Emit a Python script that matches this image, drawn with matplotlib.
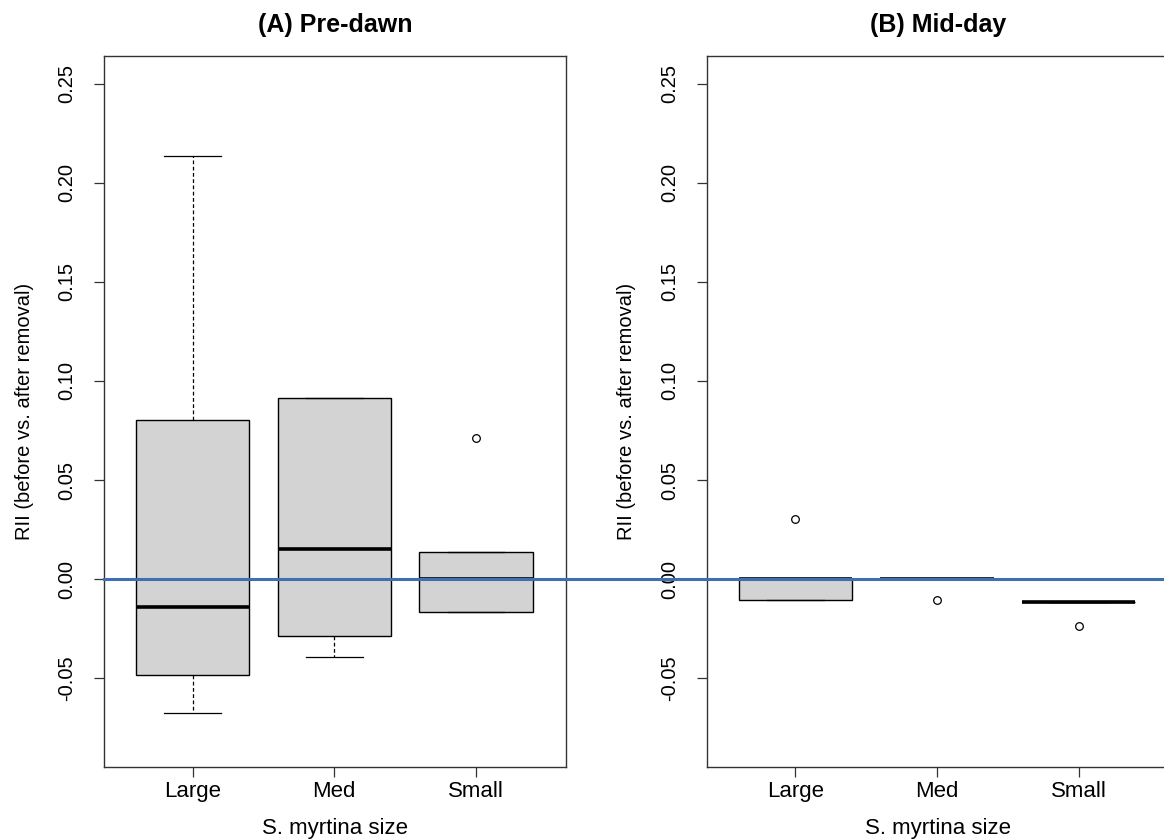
import matplotlib
matplotlib.use("Agg")
import matplotlib.pyplot as plt
from matplotlib.lines import Line2D
from matplotlib.transforms import blended_transform_factory

plt.rcParams['font.family'] = ['Liberation Sans', 'DejaVu Sans']

# size classes of S. myrtina
sizes = ["Large", "Med", "Small"]

# (A) pre-dawn RII summary values
pre_whislo = [-0.0675, -0.0392, -0.0167]
pre_q1 = [-0.0486, -0.0288, -0.0167]
pre_med = [-0.0140, 0.0150, 0.0000]
pre_q3 = [0.0803, 0.0913, 0.0135]
pre_whishi = [0.2138, 0.0913, 0.0135]
pre_fliers = [[], [], [0.0714]]

# (B) mid-day RII summary values
mid_whislo = [-0.0106, 0.0000, -0.0117]
mid_q1 = [-0.0106, 0.0000, -0.0117]
mid_med = [0.0000, 0.0000, -0.0117]
mid_q3 = [0.0000, 0.0000, -0.0117]
mid_whishi = [0.0000, 0.0000, -0.0117]
mid_fliers = [[0.0303], [-0.0106], [-0.0236]]

yticks = [-0.05, 0.00, 0.05, 0.10, 0.15, 0.20, 0.25]
ytick_labels = ["-0.05", "0.00", "0.05", "0.10", "0.15", "0.20", "0.25"]


def make_stats(whislo, q1, med, q3, whishi, fliers):
    """ Build the list of dicts that ax.bxp wants. """
    stats = []
    for i, name in enumerate(sizes):
        stats.append(dict(label=name, whislo=whislo[i], q1=q1[i], med=med[i],
                          q3=q3[i], whishi=whishi[i], fliers=fliers[i]))
    return stats


def draw_panel(ax, stats, title):
    ax.bxp(stats, positions=[1, 2, 3], widths=0.8, patch_artist=True,
           showfliers=True,
           boxprops=dict(facecolor='#d3d3d3', edgecolor='black', linewidth=1.0),
           medianprops=dict(color='black', linewidth=2.6, solid_capstyle='butt'),
           whiskerprops=dict(color='black', linewidth=0.9, linestyle=(0, (3, 2))),
           capprops=dict(color='black', linewidth=0.9),
           capwidths=0.4,
           flierprops=dict(marker='o', markerfacecolor='none', markeredgecolor='black',
                           markersize=5.5, markeredgewidth=0.9))

    ax.set_xlim(0.375, 3.635)
    ax.set_ylim(-0.0948, 0.2641)

    ax.set_xticks([1, 2, 3])
    ax.set_xticklabels(sizes, fontsize=16)
    ax.set_yticks(yticks)
    ax.set_yticklabels(ytick_labels, fontsize=14.5, rotation=90, va='center')
    ax.tick_params(axis='both', direction='out', length=7, width=0.9, color='#333333')
    ax.tick_params(axis='x', pad=3)
    ax.tick_params(axis='y', pad=13)

    for sp in ax.spines.values():
        sp.set_linewidth(1.0)
        sp.set_color('#333333')

    ax.set_xlabel("S. myrtina size", fontsize=16, labelpad=12)
    ax.set_ylabel("RII (before vs. after removal)", fontsize=14.5, labelpad=17)
    ax.set_title(title, fontsize=18, fontweight='bold', pad=17)


fig = plt.figure(figsize=(11.64, 8.4), dpi=100)

# axes boxes placed like the R layout (right panel runs past the edge)
ax1 = fig.add_axes([104 / 1164, 1 - 766.8 / 840, 462 / 1164, 710.8 / 840])
ax2 = fig.add_axes([706.7 / 1164, 1 - 766.8 / 840, 462 / 1164, 710.8 / 840])

draw_panel(ax1, make_stats(pre_whislo, pre_q1, pre_med, pre_q3, pre_whishi, pre_fliers), "(A) Pre-dawn")
draw_panel(ax2, make_stats(mid_whislo, mid_q1, mid_med, mid_q3, mid_whishi, mid_fliers), "(B) Mid-day")

# blue zero line drawn across both panels
trans = blended_transform_factory(fig.transFigure, ax1.transData)
fig.add_artist(Line2D([104 / 1164, 1.0], [0, 0], transform=trans,
                      color='#3f6fb3', linewidth=2.2, zorder=10))

fig.savefig("out.png", dpi=100)
